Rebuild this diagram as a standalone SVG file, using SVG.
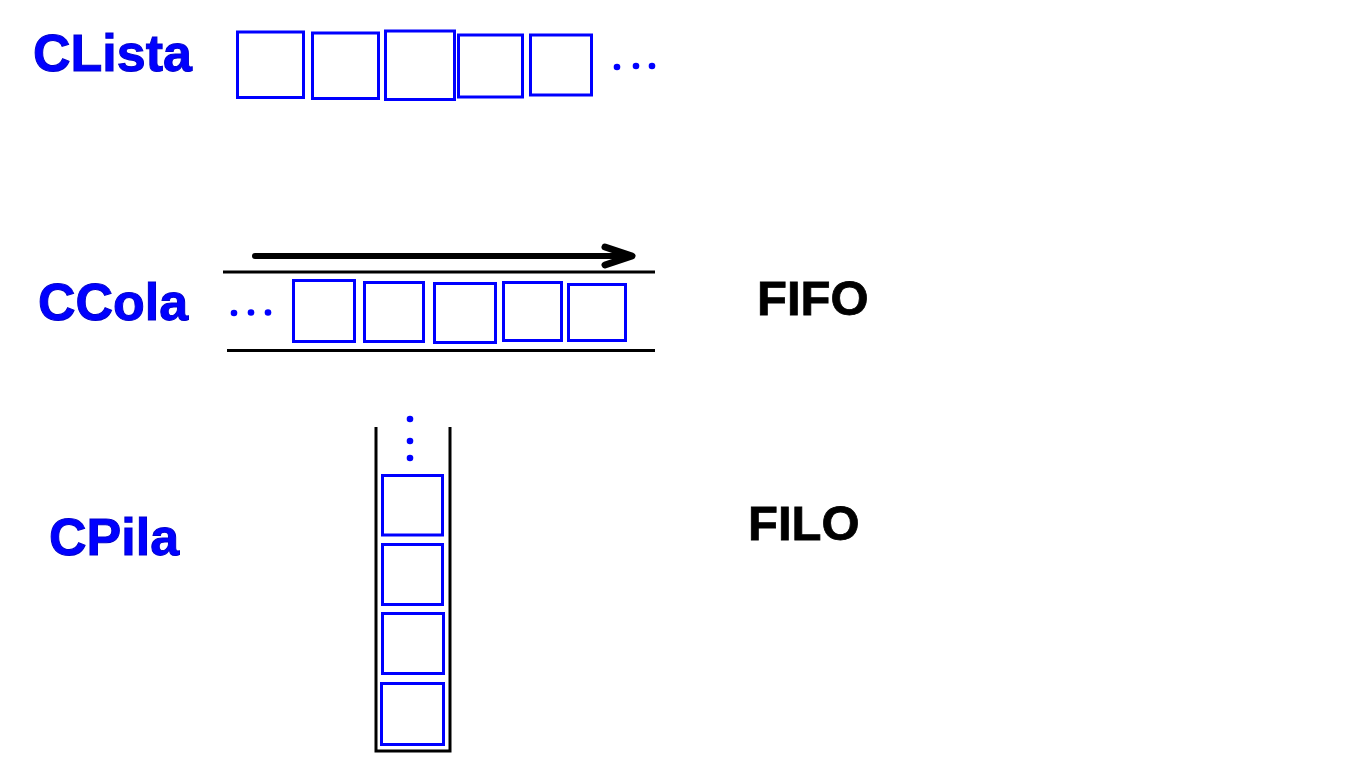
<svg xmlns="http://www.w3.org/2000/svg" width="1366" height="768" viewBox="0 0 1366 768">
<style>
.box{fill:none;stroke:#0000FF;stroke-width:3}
.dot{fill:#0000FF}
.wall{fill:none;stroke:#000;stroke-width:3}
.lbl{font-family:"Liberation Sans",Arial,sans-serif;font-weight:bold;font-size:52px;fill:#0000FF;stroke:#0000CC;stroke-width:1}
.blk{font-family:"Liberation Sans",Arial,sans-serif;font-weight:bold;font-size:49px;fill:#000;stroke:#000;stroke-width:0.8}
</style>
<rect width="1366" height="768" fill="#fff"/>
<g id="clista">
<text class="lbl" x="33" y="71">CLista</text>
<rect class="box" x="237.5" y="32" width="66" height="65.5"/>
<rect class="box" x="312.5" y="33" width="66" height="65.5"/>
<rect class="box" x="385.5" y="31" width="69" height="68.5"/>
<rect class="box" x="458.5" y="35" width="64" height="62"/>
<rect class="box" x="530.5" y="35" width="61" height="60"/>
<circle class="dot" cx="617" cy="67" r="3.3"/>
<circle class="dot" cx="636" cy="66" r="3.3"/>
<circle class="dot" cx="652" cy="66" r="3.3"/>
</g>
<g id="ccola">
<text class="lbl" x="38" y="320">CCola</text>
<line class="wall" x1="223" y1="272" x2="655" y2="272"/>
<line class="wall" x1="227" y1="350.5" x2="655" y2="350.5"/>
<rect class="box" x="293.5" y="280.5" width="61" height="61"/>
<rect class="box" x="364.5" y="282.5" width="59" height="59"/>
<rect class="box" x="434.5" y="283.5" width="61" height="59"/>
<rect class="box" x="503.5" y="282.5" width="58" height="58"/>
<rect class="box" x="568.5" y="284.5" width="57" height="56"/>
<circle class="dot" cx="234" cy="313" r="3.3"/>
<circle class="dot" cx="251" cy="312.5" r="3.3"/>
<circle class="dot" cx="268" cy="312.5" r="3.3"/>
</g>
<g id="cpila">
<text class="lbl" x="49" y="555">CPila</text>
<polyline class="wall" points="376,427 376,751 450,751 450,427"/>
<rect class="box" x="382.5" y="475.5" width="60" height="59.5"/>
<rect class="box" x="382.5" y="544.5" width="60" height="60"/>
<rect class="box" x="382.5" y="613.5" width="61" height="60"/>
<rect class="box" x="381.5" y="683.5" width="62" height="61"/>
<circle class="dot" cx="410" cy="419" r="3.3"/>
<circle class="dot" cx="410" cy="441" r="3.3"/>
<circle class="dot" cx="410" cy="458" r="3.3"/>
</g>
<g id="fifo"><text class="blk" x="757" y="315">FIFO</text></g>
<g id="filo"><text class="blk" x="748" y="540">FILO</text></g>
<g id="connectors">
<line x1="255" y1="256" x2="630" y2="256" stroke="#000" stroke-width="6" stroke-linecap="round"/>
<polyline points="605,247 632,256 605,265" fill="none" stroke="#000" stroke-width="7" stroke-linecap="round" stroke-linejoin="round"/>
</g>
</svg>
